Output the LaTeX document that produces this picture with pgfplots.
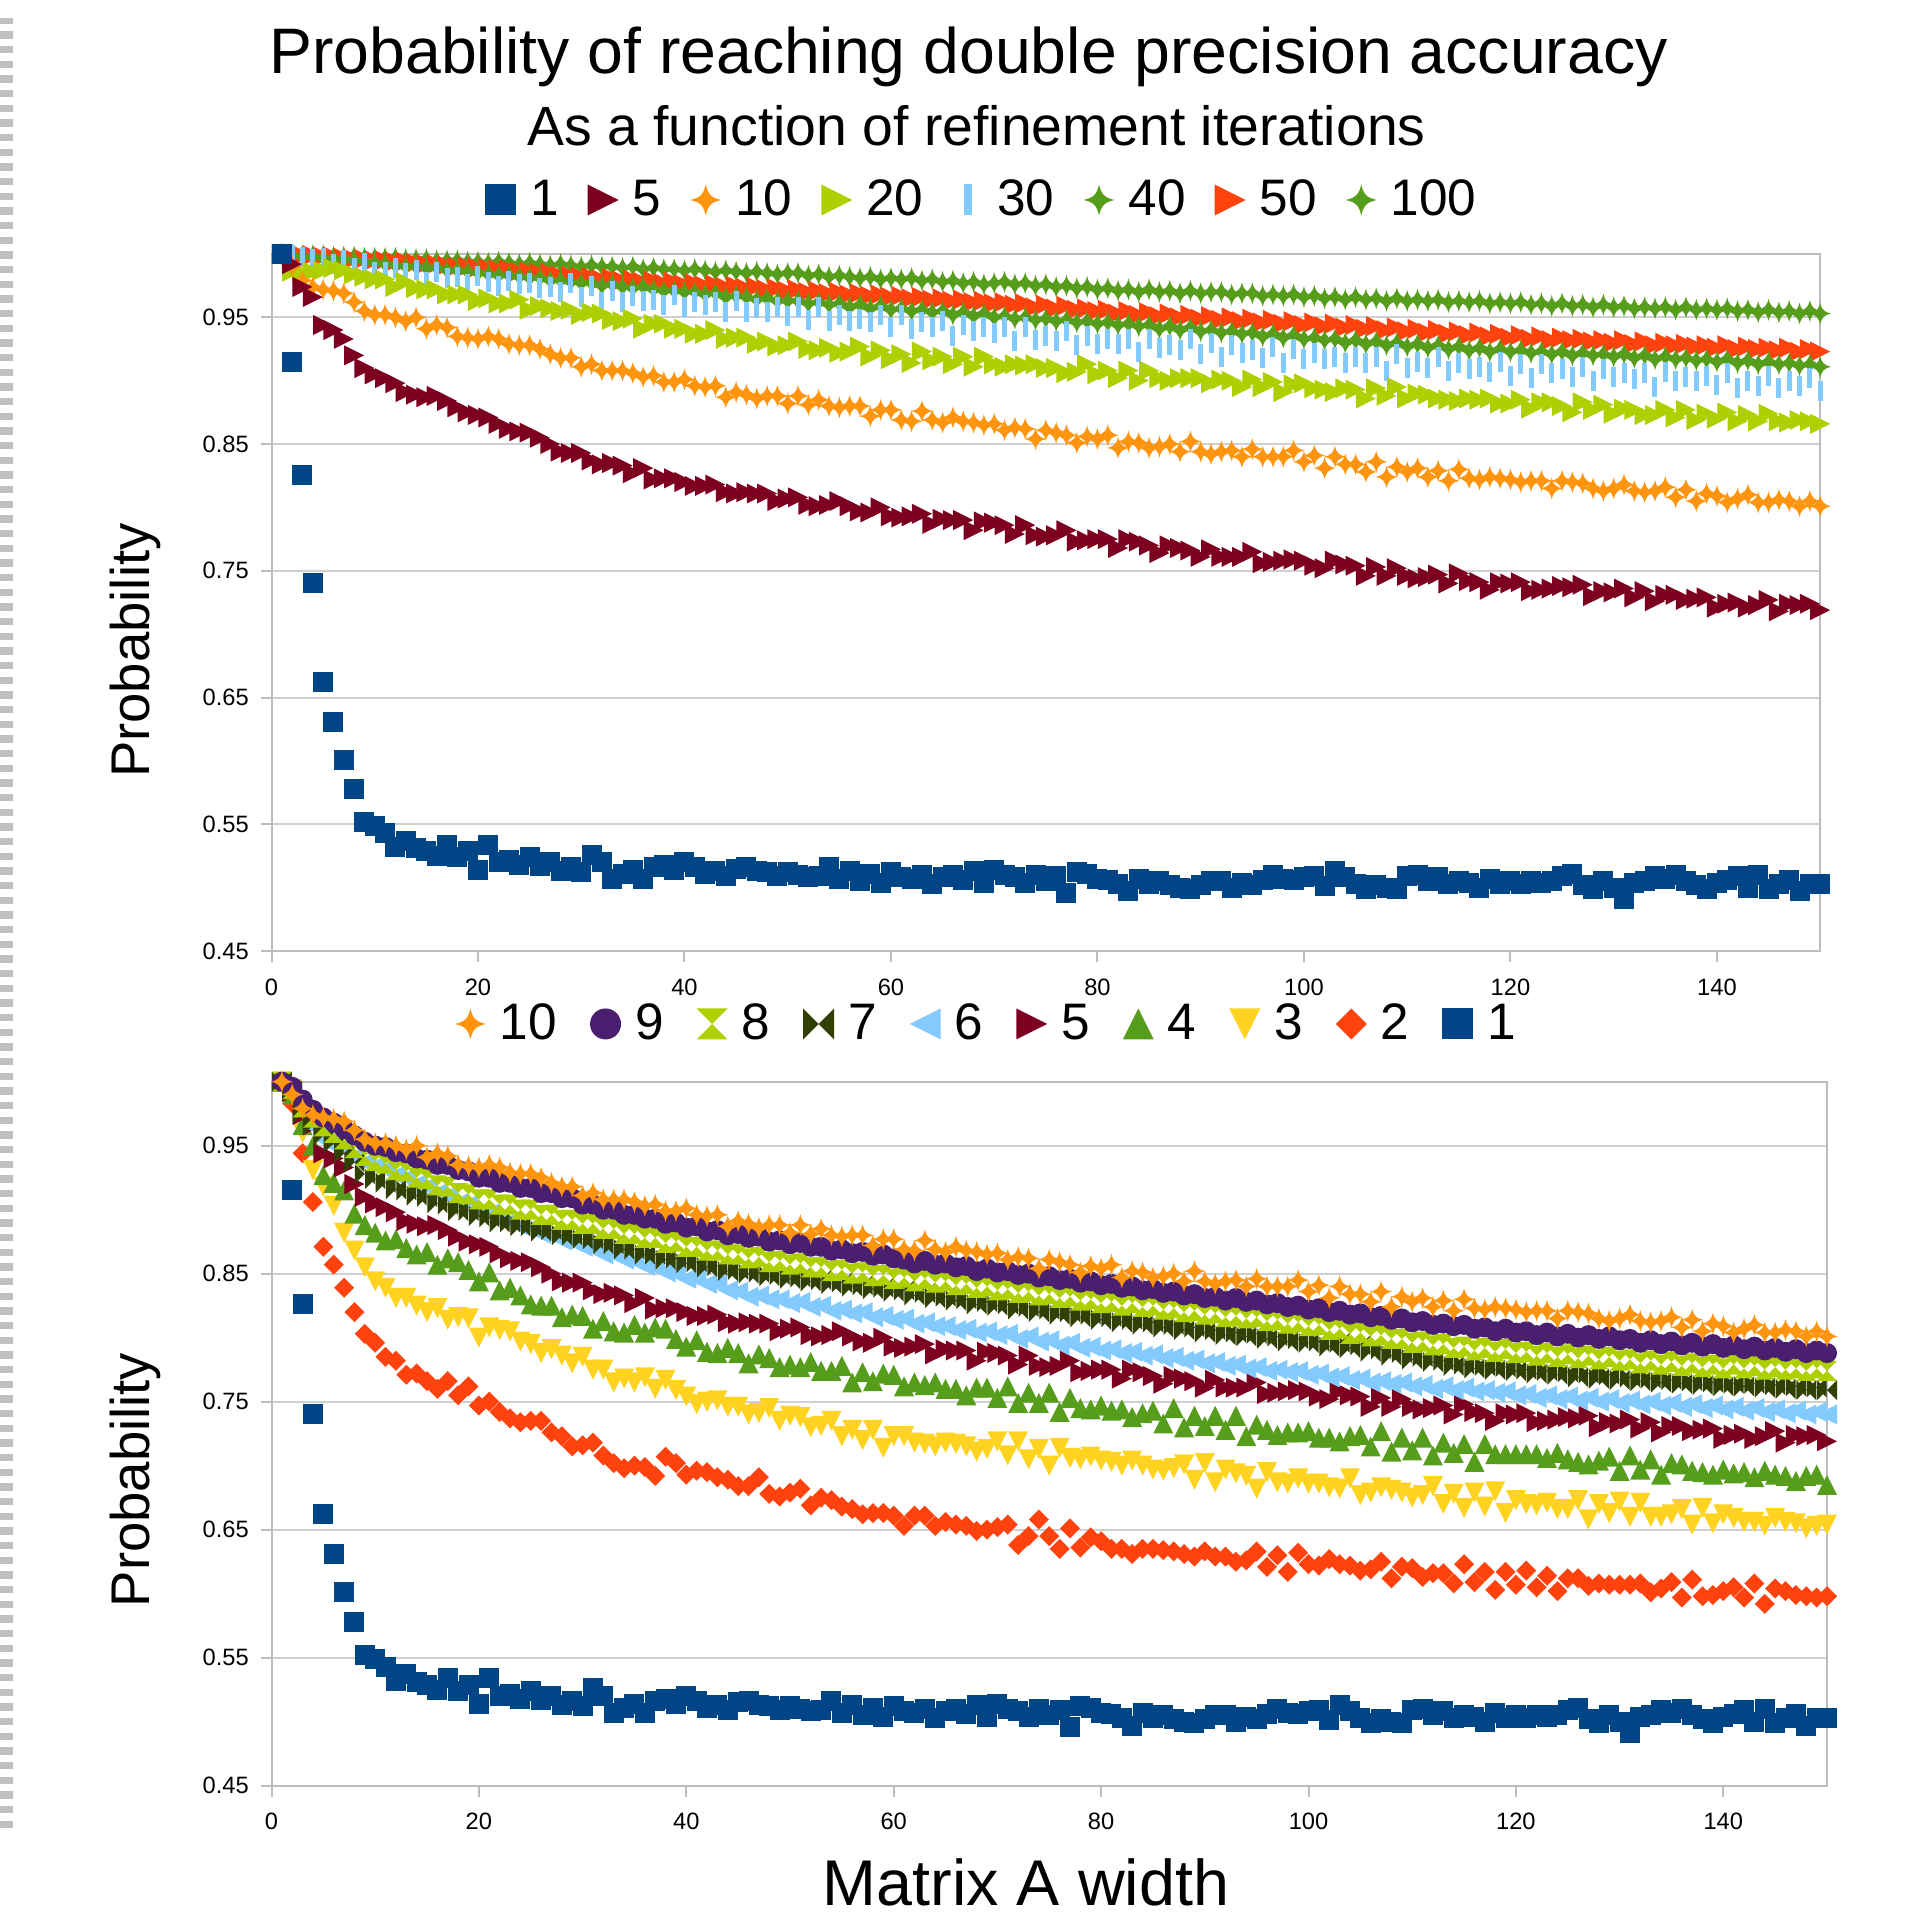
\documentclass[border=0pt]{standalone}
\usepackage{pgfplots}
\pgfplotsset{compat=1.18}
\usepackage{pgfplotstable}
\usepackage{fontspec}
\setmainfont{Liberation Sans}

% LibreOffice default chart palette
\definecolor{c1}{HTML}{004586}
\definecolor{c2}{HTML}{FF420E}
\definecolor{c3}{HTML}{FFD320}
\definecolor{c4}{HTML}{579D1C}
\definecolor{c5}{HTML}{7E0021}
\definecolor{c6}{HTML}{83CAFF}
\definecolor{c7}{HTML}{314004}
\definecolor{c8}{HTML}{AECF00}
\definecolor{c9}{HTML}{4B1F6F}
\definecolor{c10}{HTML}{FF950E}
\definecolor{axgray}{HTML}{BDBDBD}
\definecolor{grgray}{HTML}{D0D0D0}
\definecolor{dashgray}{HTML}{C0C0C0}

% marks filling their box, as in the original
\newcommand\mk{\pgfplotmarksize}
\pgfdeclareplotmark{Sq}{\pgfpathrectangle{\pgfqpoint{-\mk}{-\mk}}{\pgfqpoint{2\mk}{2\mk}}\pgfusepathqfill}
\pgfdeclareplotmark{VB}{\pgfpathrectangle{\pgfqpoint{-0.25\mk}{-\mk}}{\pgfqpoint{0.5\mk}{2\mk}}\pgfusepathqfill}
\pgfdeclareplotmark{CI}{\pgfpathcircle{\pgfpointorigin}{\mk}\pgfusepathqfill}
\pgfdeclareplotmark{TR}{\pgfpathmoveto{\pgfqpoint{-\mk}{\mk}}\pgfpathlineto{\pgfqpoint{\mk}{0pt}}\pgfpathlineto{\pgfqpoint{-\mk}{-\mk}}\pgfpathclose\pgfusepathqfill}
\pgfdeclareplotmark{TL}{\pgfpathmoveto{\pgfqpoint{\mk}{\mk}}\pgfpathlineto{\pgfqpoint{-\mk}{0pt}}\pgfpathlineto{\pgfqpoint{\mk}{-\mk}}\pgfpathclose\pgfusepathqfill}
\pgfdeclareplotmark{TU}{\pgfpathmoveto{\pgfqpoint{-\mk}{-\mk}}\pgfpathlineto{\pgfqpoint{\mk}{-\mk}}\pgfpathlineto{\pgfqpoint{0pt}{\mk}}\pgfpathclose\pgfusepathqfill}
\pgfdeclareplotmark{TD}{\pgfpathmoveto{\pgfqpoint{-\mk}{\mk}}\pgfpathlineto{\pgfqpoint{\mk}{\mk}}\pgfpathlineto{\pgfqpoint{0pt}{-\mk}}\pgfpathclose\pgfusepathqfill}
\pgfdeclareplotmark{DI}{\pgfpathmoveto{\pgfqpoint{0pt}{\mk}}\pgfpathlineto{\pgfqpoint{\mk}{0pt}}\pgfpathlineto{\pgfqpoint{0pt}{-\mk}}\pgfpathlineto{\pgfqpoint{-\mk}{0pt}}\pgfpathclose\pgfusepathqfill}
\pgfdeclareplotmark{HG}{\pgfpathmoveto{\pgfqpoint{-\mk}{\mk}}\pgfpathlineto{\pgfqpoint{\mk}{\mk}}\pgfpathlineto{\pgfpointorigin}\pgfpathclose
  \pgfpathmoveto{\pgfqpoint{-\mk}{-\mk}}\pgfpathlineto{\pgfqpoint{\mk}{-\mk}}\pgfpathlineto{\pgfpointorigin}\pgfpathclose\pgfusepathqfill}
\pgfdeclareplotmark{BT}{\pgfpathmoveto{\pgfqpoint{-\mk}{\mk}}\pgfpathlineto{\pgfqpoint{-\mk}{-\mk}}\pgfpathlineto{\pgfpointorigin}\pgfpathclose
  \pgfpathmoveto{\pgfqpoint{\mk}{\mk}}\pgfpathlineto{\pgfqpoint{\mk}{-\mk}}\pgfpathlineto{\pgfpointorigin}\pgfpathclose\pgfusepathqfill}
\pgfdeclareplotmark{ST}{\pgfpathmoveto{\pgfqpoint{0pt}{\mk}}%
  \pgfpathcurveto{\pgfqpoint{0.15\mk}{0.35\mk}}{\pgfqpoint{0.35\mk}{0.15\mk}}{\pgfqpoint{\mk}{0pt}}%
  \pgfpathcurveto{\pgfqpoint{0.35\mk}{-0.15\mk}}{\pgfqpoint{0.15\mk}{-0.35\mk}}{\pgfqpoint{0pt}{-\mk}}%
  \pgfpathcurveto{\pgfqpoint{-0.15\mk}{-0.35\mk}}{\pgfqpoint{-0.35\mk}{-0.15\mk}}{\pgfqpoint{-\mk}{0pt}}%
  \pgfpathcurveto{\pgfqpoint{-0.35\mk}{0.15\mk}}{\pgfqpoint{-0.15\mk}{0.35\mk}}{\pgfqpoint{0pt}{\mk}}%
  \pgfpathclose\pgfusepathqfill}

% probability in thousandths; sN = N refinement iterations
\pgfplotstableread{
x s1 s2 s3 s4 s5 s6 s7 s8 s9 s10 s20 s30 s40 s50 s100
1 1000 1000 1000 1000 1000 1000 1000 1000 1000 1000 1000 1000 1000 1000 1000
2 915 983 990 990 992 992 993 994 996 990 986 999 999 1000 1000
3 826 944 960 966 974 980 975 980 986 979 985 998 998 999 999
4 740 906 931 950 966 965 966 972 978 974 986 996 998 999 999
5 662 871 918 927 944 955 958 965 972 972 987 997 997 998 999
6 631 857 903 921 940 950 952 960 968 971 989 992 996 998 998
7 601 839 882 915 933 947 944 955 963 969 987 995 996 997 998
8 578 820 868 897 920 941 937 948 958 962 984 989 995 996 998
9 552 803 855 888 910 937 928 942 953 955 982 993 994 996 997
10 549 796 844 882 905 934 924 938 950 952 980 986 993 995 997
11 543 785 839 876 902 932 921 936 949 952 980 986 992 995 997
12 532 782 831 877 898 927 916 931 945 950 974 989 991 994 997
13 537 771 831 870 891 925 915 930 944 947 978 985 990 994 996
14 531 772 825 865 889 920 911 925 940 950 973 987 990 993 996
15 529 766 820 867 887 918 910 924 939 941 972 978 989 992 996
16 525 760 823 857 888 913 905 919 935 944 972 986 989 992 995
17 534 766 814 862 884 911 904 918 935 942 968 981 987 991 995
18 524 755 816 859 879 905 899 913 931 935 968 982 987 990 995
19 529 762 815 853 875 904 899 912 930 934 968 976 986 990 994
20 514 747 800 844 873 898 895 908 925 933 963 983 985 989 994
21 534 750 808 851 871 897 894 908 925 935 965 978 984 989 993
22 520 742 806 837 866 892 890 904 921 933 961 975 983 988 994
23 522 737 805 839 862 891 890 904 921 929 961 979 983 988 993
24 518 734 797 833 860 887 887 900 917 928 964 976 982 986 992
25 524 735 795 826 859 886 887 900 917 928 956 977 981 986 993
26 517 735 788 825 855 881 883 896 913 925 959 973 981 985 992
27 520 726 791 825 850 881 884 896 913 921 957 974 979 985 991
28 513 723 786 816 844 876 880 892 909 918 955 970 979 983 992
29 516 715 780 818 843 875 880 892 909 918 956 977 978 983 991
30 512 716 785 817 843 871 877 889 904 911 952 966 977 982 990
31 526 718 775 807 837 870 877 889 904 913 954 975 977 982 991
32 520 708 775 813 834 865 873 885 900 908 953 962 975 980 990
33 507 702 765 805 835 865 873 885 900 908 948 971 976 981 990
34 511 698 768 804 833 861 869 881 896 908 947 962 974 979 989
35 514 700 765 810 827 860 869 881 896 906 949 967 973 980 990
36 507 699 769 804 831 856 865 878 893 903 941 963 974 978 988
37 516 692 760 808 822 855 865 878 893 904 945 964 972 979 989
38 518 707 767 807 823 851 861 874 889 899 945 960 971 977 988
39 514 702 759 799 823 850 862 875 890 899 941 968 971 978 988
40 520 693 754 793 820 846 858 871 886 901 941 958 970 976 987
41 516 696 748 798 817 846 859 871 887 896 937 962 970 977 988
42 511 695 750 789 817 842 855 868 883 895 937 960 968 975 987
43 513 691 751 788 818 842 856 868 884 896 940 962 969 976 986
44 509 689 746 792 812 837 852 865 880 887 933 954 966 974 987
45 515 684 746 788 811 836 853 865 881 891 934 963 967 975 986
46 516 684 740 780 812 832 850 862 878 889 934 954 966 973 985
47 513 691 741 787 811 833 851 863 879 886 929 957 964 974 986
48 512 678 745 784 811 830 848 859 875 888 931 954 965 972 985
49 509 676 735 777 805 830 849 860 876 888 927 958 963 973 984
50 512 679 739 779 807 827 846 857 873 882 928 951 963 971 985
51 510 682 738 777 808 828 847 858 874 888 931 958 963 972 985
52 508 669 730 781 802 824 844 855 871 881 925 948 961 970 983
53 509 675 731 774 801 825 845 855 871 885 924 958 962 971 984
54 516 673 735 774 802 821 842 852 868 880 926 947 960 969 982
55 507 668 723 778 805 822 843 853 869 879 922 952 961 970 983
56 513 666 728 765 801 819 840 850 866 880 923 947 958 968 982
57 505 662 720 773 797 820 841 851 867 880 927 949 960 969 981
58 511 663 728 766 796 816 838 848 864 872 919 946 957 967 982
59 504 663 714 772 800 817 839 849 865 877 924 952 959 968 980
60 512 661 723 771 793 814 836 846 862 877 917 942 956 966 981
61 508 653 723 762 792 815 837 847 861 869 921 952 957 967 980
62 507 661 718 765 793 811 833 844 858 868 914 941 955 965 981
63 510 661 717 763 795 812 835 846 860 876 923 946 956 966 979
64 503 653 715 765 787 809 831 843 857 869 916 942 954 964 980
65 508 656 718 760 791 809 832 844 858 867 919 947 955 965 978
66 510 654 717 760 790 806 829 841 855 871 913 935 952 963 979
67 506 653 715 755 790 807 830 842 856 868 919 944 954 964 977
68 513 649 711 761 782 804 826 839 852 867 911 939 951 962 978
69 504 650 713 761 789 805 828 840 854 865 919 942 953 963 976
70 514 652 719 753 788 802 825 837 851 866 913 938 950 961 977
71 510 654 708 762 786 803 826 838 852 861 911 942 951 962 978
72 508 638 719 749 779 799 822 835 849 863 913 931 949 960 976
73 504 645 705 757 786 801 824 836 850 862 912 942 950 961 977
74 510 658 713 749 778 797 820 833 847 854 913 932 948 958 975
75 505 645 700 757 777 798 822 834 848 861 910 935 949 960 976
76 509 635 714 742 778 794 818 831 845 859 910 931 947 957 974
77 496 651 706 753 782 796 820 832 846 857 906 939 948 959 975
78 512 636 705 745 773 792 816 829 843 851 907 928 946 956 973
79 511 644 707 744 774 793 818 830 844 856 913 935 947 957 974
80 507 641 704 747 775 790 814 827 841 854 905 929 945 955 972
81 506 635 703 743 775 791 816 828 842 857 908 933 946 956 973
82 503 635 700 744 768 788 812 825 839 847 902 929 944 953 971
83 497 631 704 738 775 789 814 827 840 852 908 933 945 955 972
84 507 635 700 741 773 786 810 824 837 851 900 923 943 952 970
85 503 635 697 743 770 787 812 825 838 847 908 933 944 954 972
86 505 634 696 733 764 784 808 822 835 848 902 926 941 951 970
87 502 633 698 745 770 785 810 823 836 850 900 928 943 953 971
88 500 631 701 730 768 782 806 820 833 844 902 924 940 950 969
89 499 629 689 739 766 783 808 821 834 852 902 933 942 952 971
90 502 633 702 731 761 780 804 818 831 844 902 921 939 949 969
91 505 629 687 739 767 781 806 819 832 842 898 930 940 951 970
92 505 629 697 728 761 778 802 816 829 844 901 919 938 948 970
93 500 625 694 739 761 779 804 817 831 845 900 928 939 950 968
94 504 626 692 723 761 776 801 815 828 840 895 922 937 947 969
95 502 633 682 732 765 777 803 816 829 846 901 924 938 949 969
96 506 621 695 728 756 774 799 813 826 840 895 918 935 946 967
97 510 630 687 724 757 775 801 814 827 840 899 927 937 948 968
98 507 617 686 726 758 773 797 811 824 840 891 914 934 945 967
99 506 632 690 726 759 774 799 812 825 845 897 925 936 947 968
100 508 623 686 727 758 771 796 809 822 836 898 917 933 944 966
101 509 622 686 722 754 772 797 810 823 841 894 922 934 946 967
102 501 627 683 722 752 769 793 806 820 831 893 917 932 943 965
103 513 623 682 719 758 770 796 807 821 840 891 919 933 945 966
104 508 622 690 723 755 767 792 803 818 834 894 914 930 942 964
105 503 618 677 724 754 768 794 804 819 834 893 919 932 944 966
106 499 619 679 715 746 765 789 801 816 828 886 914 929 941 964
107 502 625 683 727 753 766 791 802 817 836 894 919 931 943 965
108 500 612 681 711 746 764 786 799 814 824 888 908 928 940 963
109 499 621 679 722 752 765 788 799 815 832 895 921 930 942 965
110 509 620 675 712 746 762 783 796 812 828 886 910 927 939 963
111 510 613 677 722 744 763 785 797 813 831 890 915 929 941 964
112 505 616 684 708 745 760 781 794 810 824 889 910 926 938 963
113 508 616 670 718 747 762 782 795 811 829 886 919 928 940 964
114 503 608 678 710 740 759 778 792 809 821 885 908 925 937 962
115 505 623 667 717 748 761 779 793 810 830 884 914 927 939 963
116 504 609 679 703 742 758 776 790 807 823 886 909 924 936 962
117 500 617 668 717 741 759 778 792 808 822 885 911 926 938 963
118 507 603 680 709 735 757 775 789 805 824 886 907 923 935 961
119 503 617 663 709 741 758 777 791 807 823 882 915 925 937 962
120 505 607 673 709 740 755 774 788 804 822 882 904 923 934 961
121 503 618 670 709 741 756 775 789 805 820 885 913 924 936 962
122 505 605 669 709 734 753 772 786 802 821 878 902 922 933 960
123 504 614 671 706 735 755 774 788 804 821 883 913 923 935 961
124 505 602 666 710 736 752 771 785 801 815 883 906 921 932 959
125 509 612 666 705 738 754 773 787 803 821 880 909 923 934 961
126 511 612 673 703 737 751 769 784 800 820 875 903 920 932 959
127 502 606 658 701 739 753 772 786 802 819 883 911 922 933 960
128 499 608 670 704 730 750 768 783 799 815 877 900 920 931 958
129 505 607 663 707 734 752 771 785 801 813 881 909 921 932 960
130 500 607 672 696 733 749 767 782 798 815 874 903 919 930 958
131 491 607 660 708 736 751 769 783 799 818 878 906 921 932 959
132 504 608 671 697 729 748 766 780 796 813 877 901 918 929 957
133 505 601 660 705 734 750 768 782 798 812 873 906 920 931 958
134 509 604 660 693 726 747 765 779 795 813 873 895 917 928 957
135 507 609 662 702 731 749 767 781 797 816 877 907 919 930 958
136 510 597 666 701 731 746 764 778 794 808 871 900 917 928 956
137 505 611 654 696 727 748 766 780 796 814 877 903 918 929 958
138 502 598 667 695 728 745 763 777 793 805 869 900 916 927 956
139 499 599 655 693 729 747 765 779 795 811 874 904 917 928 957
140 504 602 662 697 721 744 762 776 792 809 870 897 915 926 956
141 506 605 659 694 724 746 764 779 794 804 875 906 917 928 957
142 509 597 656 695 725 743 762 776 791 807 868 894 914 925 955
143 500 608 656 691 721 745 764 778 793 810 873 900 916 927 956
144 510 592 653 696 723 742 761 775 790 804 868 896 913 925 954
145 499 604 659 693 727 744 763 777 792 804 874 904 915 926 956
146 503 602 656 692 718 741 760 775 789 806 868 894 913 924 954
147 506 599 655 688 724 743 762 776 791 805 867 900 914 926 955
148 497 598 651 692 723 740 759 774 788 801 869 896 912 923 953
149 503 597 653 693 724 742 761 776 790 805 868 902 913 925 955
150 503 598 654 685 719 740 759 774 788 801 866 892 911 923 953
}\probtable

\pgfplotsset{
  probaxis/.style={
    scale only axis, anchor=south west,
    xmin=0, xmax=150, ymin=450, ymax=1000,
    xtick={0,20,...,140}, xtick pos=left,
    ytick={450,550,650,750,850,950}, ytick pos=left,
    yticklabels={0.45,0.55,0.65,0.75,0.85,0.95},
    /pgf/number format/assume math mode=true,
    ticklabel style={font=\fontsize{7.1}{8}\selectfont},
    xticklabel style={yshift=-1.5pt},
    tick align=outside, major tick length=3.3pt,
    tick style={axgray, line width=0.6pt},
    axis line style={axgray, line width=0.6pt},
    ymajorgrids, major grid style={grgray, line width=0.6pt},
    clip=false,
    every axis plot/.append style={only marks, mark size=3pt},
    reverse legend,
    legend columns=-1,
    legend style={draw=none, fill=none, anchor=center, inner sep=0pt,
      font=\fontsize{15.4}{18}\selectfont, nodes={inner sep=0pt},
      /tikz/every odd column/.append style={column sep=4.2pt}},
    legend image post style={mark size=4.65pt},
    legend image code/.code={%
      \path[draw=none, fill=none] (0pt,-4.65pt) rectangle (9.3pt,4.65pt);
      \path[##1, draw=none, only marks, mark size=4.65pt] plot coordinates {(4.65pt,0pt)};},
  }
}

\begin{document}
\begin{tikzpicture}
\path[use as bounding box] (0pt,0pt) rectangle (571.2pt,575.4pt);
\draw[dashgray, line width=3.9pt, dash pattern=on 2.2pt off 2.2pt] (1.95pt,27pt) -- (1.95pt,570pt);

\node[anchor=base, font=\fontsize{19.3}{22}\selectfont] at (290.55pt,553.4pt) {Probability of reaching double precision accuracy};
\node[anchor=base, font=\fontsize{16.6}{19}\selectfont] at (292.95pt,531.6pt) {As a function of refinement iterations};
\node[anchor=base, font=\fontsize{19.4}{22}\selectfont] at (307.8pt,3.75pt) {Matrix A width};
\node[rotate=90, anchor=base, font=\fontsize{16.35}{19}\selectfont] at (44.7pt,380.2pt) {Probability};
\node[rotate=90, anchor=base, font=\fontsize{16.35}{19}\selectfont] at (44.7pt,131.4pt) {Probability};

% top: 1 to 100 iterations
\begin{axis}[probaxis, at={(81.45pt,290.1pt)}, width=464.6pt, height=209.1pt,
  legend style={at={(0.458,1.0775)}, /tikz/every even column/.append style={column sep=8.7pt}}]
\addplot[color=c4, mark=ST, mark size=3.3pt] table[x=x, y=s100] {\probtable};
\addlegendentry{100}
\addplot[color=c2, mark=TR] table[x=x, y=s50] {\probtable};
\addlegendentry{50}
\addplot[color=c4, mark=ST, mark size=3.3pt] table[x=x, y=s40] {\probtable};
\addlegendentry{40}
\addplot[color=c6, mark=VB] table[x=x, y=s30] {\probtable};
\addlegendentry{30}
\addplot[color=c8, mark=TR] table[x=x, y=s20] {\probtable};
\addlegendentry{20}
\addplot[color=c10, mark=ST, mark size=3.3pt] table[x=x, y=s10] {\probtable};
\addlegendentry{10}
\addplot[color=c5, mark=TR] table[x=x, y=s5] {\probtable};
\addlegendentry{5}
\addplot[color=c1, mark=Sq] table[x=x, y=s1] {\probtable};
\addlegendentry{1}
\end{axis}

% bottom: 1 to 10 iterations
\begin{axis}[probaxis, at={(81.45pt,39.7pt)}, width=466.65pt, height=211.2pt,
  legend style={at={(0.459,1.082)}, /tikz/every even column/.append style={column sep=9.9pt}}]
\addplot[color=c1, mark=Sq] table[x=x, y=s1] {\probtable};
\addlegendentry{1}
\addplot[color=c2, mark=DI] table[x=x, y=s2] {\probtable};
\addlegendentry{2}
\addplot[color=c3, mark=TD] table[x=x, y=s3] {\probtable};
\addlegendentry{3}
\addplot[color=c4, mark=TU] table[x=x, y=s4] {\probtable};
\addlegendentry{4}
\addplot[color=c5, mark=TR] table[x=x, y=s5] {\probtable};
\addlegendentry{5}
\addplot[color=c6, mark=TL] table[x=x, y=s6] {\probtable};
\addlegendentry{6}
\addplot[color=c7, mark=BT] table[x=x, y=s7] {\probtable};
\addlegendentry{7}
\addplot[color=c8, mark=HG] table[x=x, y=s8] {\probtable};
\addlegendentry{8}
\addplot[color=c9, mark=CI] table[x=x, y=s9] {\probtable};
\addlegendentry{9}
\addplot[color=c10, mark=ST, mark size=3.3pt] table[x=x, y=s10] {\probtable};
\addlegendentry{10}
\end{axis}
\end{tikzpicture}
\end{document}
